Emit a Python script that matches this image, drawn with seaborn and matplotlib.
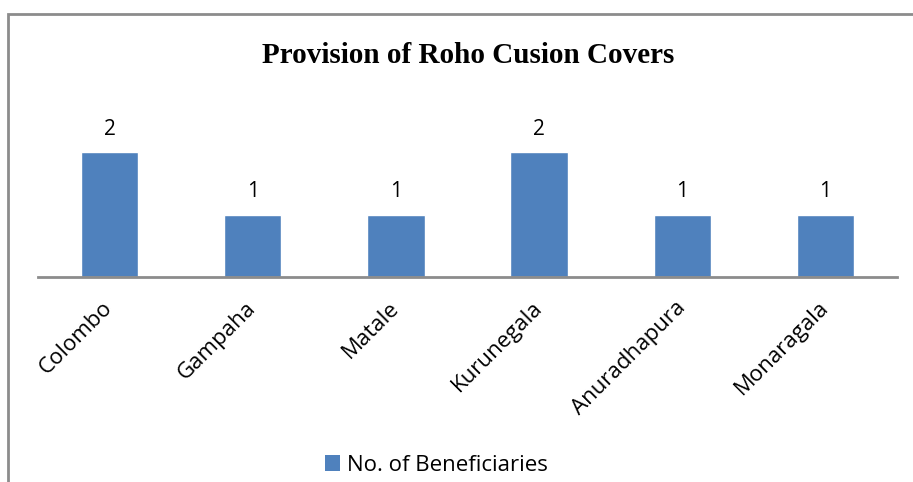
import matplotlib
matplotlib.use("Agg")
import matplotlib.pyplot as plt
from matplotlib.patches import Patch, Rectangle
import seaborn as sns
import pandas as pd

# -----------------------------
# Data
# -----------------------------
districts = ["Colombo", "Gampaha", "Matale", "Kurunegala", "Anuradhapura", "Monaragala"]
beneficiaries = [2, 1, 1, 2, 1, 1]
series_name = "No. of Beneficiaries"
title = "Provision of Roho Cusion Covers"

BAR_COLOR = "#4F81BD"
AXIS_GRAY = "#8C8C8C"

df = pd.DataFrame({"district": districts, "count": beneficiaries})

sns.set_theme(style="white")
plt.rcParams["font.family"] = ["Open Sans", "DejaVu Sans"]
plt.rcParams["text.color"] = "black"

fig = plt.figure(figsize=(9.13, 4.82), dpi=100)
ax = fig.add_axes([0.0416, 0.4253, 0.9409, 0.3672])

sns.barplot(data=df, x="district", y="count", color=BAR_COLOR, width=0.4,
            saturation=1, ax=ax)

ax.set_ylim(0, 2.832)
ax.set_xlim(-0.5, len(districts) - 0.5)
ax.set_xlabel("")
ax.set_ylabel("")
ax.set_yticks([])
for side in ["left", "right", "top"]:
    ax.spines[side].set_visible(False)
ax.spines["bottom"].set_color(AXIS_GRAY)
ax.spines["bottom"].set_linewidth(2)

ax.tick_params(axis="x", length=0, pad=20)
plt.setp(ax.get_xticklabels(), rotation=45, ha="right", va="center",
         rotation_mode="anchor", fontsize=16, color="black")

# value labels
for cont in ax.containers:
    ax.bar_label(cont, fmt="%d", padding=9, fontsize=15, color="black")

# title
fig.text(0.513, 0.884, title, ha="center", va="center", fontsize=21,
         fontweight="bold", color="black", family=["Liberation Serif", "DejaVu Serif"])

# legend
handle = Patch(facecolor=BAR_COLOR, edgecolor="none")
fig.legend([handle], [series_name], loc="center", bbox_to_anchor=(0.478, 0.035),
           frameon=False, fontsize=16, handlelength=0.7, handleheight=0.7,
           handletextpad=0.3, labelcolor="black")

# outer chart frame (runs off the right and bottom edges)
frame = Rectangle((8 / 913, -0.1), 1.2, 1 - 14 / 482 + 0.1, transform=fig.transFigure,
                  fill=False, edgecolor=AXIS_GRAY, linewidth=2)
fig.patches.append(frame)

fig.savefig("out.png", dpi=100)
plt.close(fig)
